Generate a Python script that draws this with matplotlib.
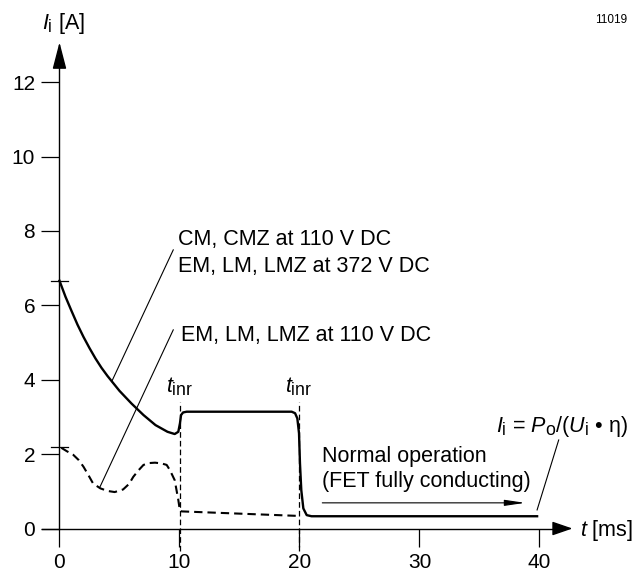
import matplotlib
matplotlib.use('Agg')
import matplotlib.pyplot as plt
import matplotlib._mathtext as mathtext_mod

plt.rcParams['font.family'] = 'Liberation Sans'
plt.rcParams['mathtext.fontset'] = 'custom'
plt.rcParams['mathtext.rm'] = 'Liberation Sans'
plt.rcParams['mathtext.it'] = 'Liberation Sans:italic'
plt.rcParams['mathtext.bf'] = 'Liberation Sans:bold'
# the drawing uses rather big subscripts
mathtext_mod.SHRINK_FACTOR = 0.82

# solid curve: CM/CMZ at 110 V DC, EM/LM/LMZ at 372 V DC
solid_t = [0, 0.5, 1, 1.5, 2, 2.5, 3, 3.5, 4, 5, 6, 7, 8, 9, 9.6, 9.9, 10.04, 10.13, 10.3, 10.6, 15,
           19.35, 19.63, 19.82, 19.96, 20.04, 20.15, 20.32, 20.6, 21.0, 39.8]
solid_i = [6.66, 6.23, 5.85, 5.48, 5.15, 4.85, 4.57, 4.32, 4.1, 3.7, 3.36, 3.05, 2.78, 2.6, 2.54,
           2.6, 2.83, 3.05, 3.12, 3.14, 3.14, 3.14, 3.10, 2.96, 2.56, 1.75, 1.03, 0.54, 0.36,
           0.33, 0.33]

# dashed curve: EM/LM/LMZ at 110 V DC
dash_t = [0.15, 0.6, 1.15, 1.6, 2.0, 2.4, 2.8, 3.4, 4.0, 4.6, 5.3, 5.8, 6.15, 6.6, 7.0, 7.5,
          7.96, 8.5, 8.93, 9.2, 9.6, 9.9, 10.04, 10.2, 15, 19.8]
dash_i = [2.17, 2.08, 1.98, 1.84, 1.66, 1.44, 1.21, 1.08, 1.01, 0.98, 1.05, 1.2, 1.39, 1.57,
          1.71, 1.76, 1.77, 1.75, 1.71, 1.57, 1.30, 0.77, 0.47, 0.46, 0.40, 0.34]

t_inr = [10.04, 20.0]
start_marks = [6.66, 2.18]
xticks = [0, 10, 20, 30, 40]
yticks = [0, 2, 4, 6, 8, 10, 12]

fig = plt.figure(figsize=(6.43, 5.71), dpi=100)
ax = fig.add_axes([0, 0, 1, 1])
ax.set_xlim(-4.958, 48.625)
ax.set_ylim(-1.142, 14.207)

# axes through the origin
for s in ['top', 'right']:
    ax.spines[s].set_visible(False)
ax.spines['left'].set_position(('data', 0))
ax.spines['bottom'].set_position(('data', 0))
ax.spines['left'].set_bounds(0, 12.5)
ax.spines['bottom'].set_bounds(-1.46, 41.4)
ax.spines['left'].set_linewidth(1.0)
ax.spines['bottom'].set_linewidth(1.0)
ax.set_xticks(xticks)
ax.set_yticks(yticks)
ax.tick_params(direction='out', length=13, width=0.9, labelsize=15, pad=4.5)

ax.annotate('', xy=(0, 13.07), xytext=(0, 12.4),
            arrowprops=dict(arrowstyle='-|>,head_length=1.66,head_width=0.43',
                            mutation_scale=10, color='k', lw=1, shrinkA=0, shrinkB=0))
ax.annotate('', xy=(42.75, 0), xytext=(41.2, 0),
            arrowprops=dict(arrowstyle='-|>,head_length=1.25,head_width=0.43',
                            mutation_scale=10, color='k', lw=1, shrinkA=0, shrinkB=0))

for v in start_marks:
    ax.plot([-0.7, 0.73], [v, v], color='k', lw=0.9)

for tv in t_inr:
    ax.plot([tv, tv], [-0.6, 3.41], color='k', lw=0.9, dashes=(4.5, 2.5), clip_on=False)

ax.plot(solid_t, solid_i, color='k', lw=1.7, solid_joinstyle='round')
ax.plot(dash_t, dash_i, color='k', lw=1.5, dashes=(4, 2.4))

# leader lines
ax.plot([9.48, 4.35], [7.49, 3.95], color='k', lw=0.8)
ax.plot([9.48, 3.375], [5.34, 1.12], color='k', lw=0.8)
ax.plot([41.6, 39.8], [2.38, 0.50], color='k', lw=0.8)

fs = 15.5
ax.text(9.875, 7.62, 'CM, CMZ at 110 V DC', fontsize=fs, va='baseline')
ax.text(9.875, 6.90, 'EM, LM, LMZ at 372 V DC', fontsize=fs, va='baseline')
ax.text(10.1, 5.04, 'EM, LM, LMZ at 110 V DC', fontsize=fs, va='baseline')
for tv in t_inr:
    ax.text(tv - 1.17, 3.67, r'$t_\mathrm{inr}$', fontsize=fs, va='baseline')

ax.text(21.85, 1.80, 'Normal operation', fontsize=fs, va='baseline')
ax.text(21.85, 1.12, '(FET fully conducting)', fontsize=fs, va='baseline')
ax.annotate('', xy=(38.8, 0.69), xytext=(21.9, 0.69),
            arrowprops=dict(arrowstyle='-|>,head_length=1.22,head_width=0.18',
                            mutation_scale=10, color='k', lw=0.8, shrinkA=0, shrinkB=0))
ax.text(47.4, 2.60, r'$I_\mathrm{i}$ = $P_\mathrm{o}$/($U_\mathrm{i}$ • η)',
        fontsize=fs, va='baseline', ha='right')

ax.text(-1.48, 13.42, r'$I_\mathrm{i}$ [A]', fontsize=fs, va='baseline')
ax.text(43.4, -0.20, r'$t$ [ms]', fontsize=fs, va='baseline')
ax.text(47.27, 13.58, '11019', fontsize=8.5, va='baseline', ha='right')

fig.savefig('out.png', dpi=100)
